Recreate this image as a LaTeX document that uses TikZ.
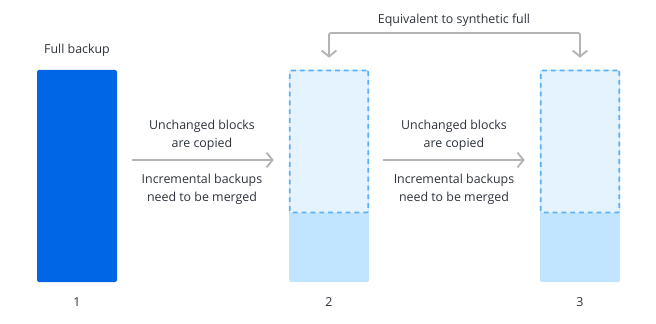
\documentclass[tikz,border=0pt]{standalone}
\usepackage{fontspec}
\setmainfont{Open Sans}
\usetikzlibrary{arrows.meta, positioning, calc}
\definecolor{bkblue}{RGB}{0, 102, 230}
\definecolor{bklight}{RGB}{229, 243, 254}
\definecolor{bkmid}{RGB}{194, 229, 255}
\definecolor{bkdash}{RGB}{92, 176, 246}
\definecolor{bkgrey}{RGB}{180, 180, 180}
\definecolor{bktext}{RGB}{45, 50, 60}

\begin{document}
\begin{tikzpicture}[
    x=0.75pt, y=-0.75pt,
    bar/.style={rectangle, inner sep=0pt, rounded corners=1.5pt, minimum width=60pt, minimum height=159pt},
    topblock/.style={rectangle, inner sep=0pt, rounded corners=1.5pt, minimum width=59pt, minimum height=106.5pt,
        fill=bklight, draw=bkdash, line width=1.3pt, dash pattern=on 3.6pt off 3pt},
    label/.style={font=\fontsize{9.3}{13.2}\selectfont, text=bktext, align=center},
    arrow/.style={-{Straight Barb[length=4.5pt, width=11pt, line width=1.4pt]}, line width=1.4pt, bkgrey}
]
\useasboundingbox (0,0) rectangle (656,324);

% === Copia completa ===
\node[bar, fill=bkblue] (full) at (77, 176) {};
\node[label, above=6.5pt of full.north] (fulltxt) {Full backup};

% === Copias sintéticas ===
\node[bar, fill=bkmid] (syn2) at (329, 176) {};
\node[topblock, anchor=north] (top2) at (syn2.north) {};
\node[bar, fill=bkmid] (syn3) at (580, 176) {};
\node[topblock, anchor=north] (top3) at (syn3.north) {};

% Números
\node[label] (n1) at (77, 302) {1};
\node[label] (n2) at (329, 302) {2};
\node[label] (n3) at (580, 302) {3};

% === Flechas entre copias ===
\draw[arrow] ([xshift=11.25pt, yshift=12pt]full.east) -- ([xshift=-11.25pt, yshift=12pt]syn2.west);
\draw[arrow] ([xshift=10.5pt, yshift=12pt]syn2.east) -- ([xshift=-11.25pt, yshift=12pt]syn3.west);

% Textos de las flechas
\node[label] (copy1) at (202, 135) {Unchanged blocks\\are copied};
\node[label] (merge1) at (202, 189) {Incremental backups\\need to be merged};
\node[label] (copy2) at (454, 135) {Unchanged blocks\\are copied};
\node[label] (merge2) at (454, 189) {Incremental backups\\need to be merged};

% === Equivalencia ===
\draw[arrow, {Straight Barb[length=4.5pt, width=11pt, line width=1.4pt]}-{Straight Barb[length=4.5pt, width=11pt, line width=1.4pt]}, rounded corners=1.5pt]
    ([yshift=9pt]top2.north) |- (454, 33) -| ([yshift=9pt]top3.north);
\node[label] (equiv) at (454, 20) {Equivalent to synthetic full};

\end{tikzpicture}
\end{document}
